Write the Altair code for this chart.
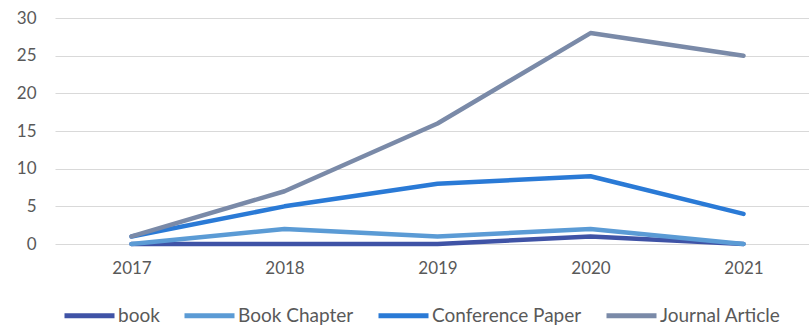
import altair as alt
import pandas as pd

years = [2017, 2018, 2019, 2020, 2021]
series_names = ["book", "Book Chapter", "Conference Paper", "Journal Article"]
book = [0, 0, 0, 1, 0]
book_chapter = [0, 2, 1, 2, 0]
conference_paper = [1, 5, 8, 9, 4]
journal_article = [1, 7, 16, 28, 25]
colors = ["#3F53A6", "#5B9BD5", "#2A7AD6", "#7A8AA8"]

rows = []
for name, vals in zip(series_names, [book, book_chapter, conference_paper, journal_article]):
    for y, v in zip(years, vals):
        rows.append({"year": y, "value": v, "series": name})
df = pd.DataFrame(rows)

font = "Lato"
txt = "#595959"

chart = alt.Chart(df).mark_line(strokeWidth=4.5, strokeCap="round", strokeJoin="round").encode(
    x=alt.X("year:Q",
            scale=alt.Scale(domain=[2016.5, 2016.5 + 754 / 153]),
            axis=alt.Axis(values=years, format="d", title=None, grid=False, domain=False,
                          ticks=False, labelPadding=16, labelFontSize=17, labelColor=txt,
                          labelFont=font)),
    y=alt.Y("value:Q",
            scale=alt.Scale(domain=[0, 30], nice=False),
            axis=alt.Axis(values=[0, 5, 10, 15, 20, 25, 30], title=None, domain=False, ticks=False,
                          labelPadding=19, labelFontSize=17, labelColor=txt, labelFont=font,
                          gridColor="#D9D9D9", gridWidth=1.2)),
    color=alt.Color("series:N",
                    scale=alt.Scale(domain=series_names, range=colors),
                    sort=series_names,
                    legend=alt.Legend(title=None, orient="none", direction="horizontal",
                                      legendX=7, legendY=270, symbolType="stroke",
                                      symbolSize=2500, symbolStrokeWidth=5,
                                      labelFontSize=19, labelFont=font, labelColor=txt,
                                      labelOffset=1, columnPadding=14, padding=0)),
).properties(
    width=754, height=226,
    autosize=alt.AutoSizeParams(type="none"),
    padding={"left": 55, "top": 18, "right": 0, "bottom": 87},
).configure_view(stroke=None)

chart.save("out.html", embed_options={"renderer": "svg", "actions": False})
